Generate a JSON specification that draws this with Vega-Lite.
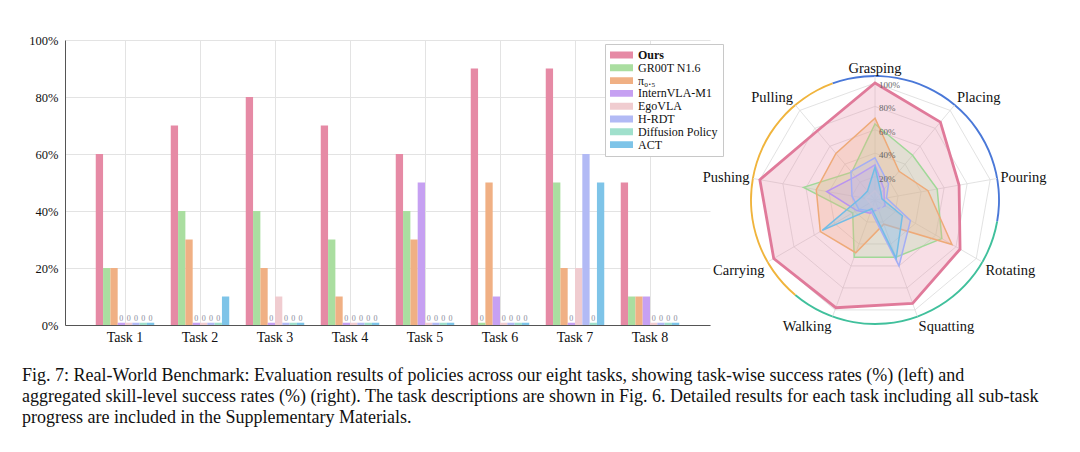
{
  "$schema": "https://vega.github.io/schema/vega-lite/v6.json",
  "padding": {"left": 22, "top": 34, "right": 0, "bottom": 0},
  "background": "white",
  "bounds": "flush",
  "spacing": 20,
  "config": {
    "font": "Liberation Serif",
    "view": {"stroke": null}
  },
  "title": {
    "text": [
      "Fig. 7: Real-World Benchmark: Evaluation results of policies across our eight tasks, showing task-wise success rates (%) (left) and",
      "aggregated skill-level success rates (%) (right). The task descriptions are shown in Fig. 6. Detailed results for each task including all sub-task",
      "progress are included in the Supplementary Materials."
    ],
    "orient": "bottom",
    "anchor": "start",
    "frame": "group",
    "dx": -43,
    "offset": 7,
    "font": "Liberation Serif",
    "fontSize": 18,
    "fontWeight": "normal",
    "lineHeight": 21,
    "color": "#111"
  },
  "resolve": {"scale": {"color": "independent"}, "legend": {"color": "independent"}},
  "datasets": {
    "bars": [
      {"task": "Task 1", "model": "Ours", "value": 60},
      {"task": "Task 1", "model": "GR00T N1.6", "value": 20},
      {"task": "Task 1", "model": "π₀.₅", "value": 20},
      {"task": "Task 1", "model": "InternVLA-M1", "value": 0},
      {"task": "Task 1", "model": "EgoVLA", "value": 0},
      {"task": "Task 1", "model": "H-RDT", "value": 0},
      {"task": "Task 1", "model": "Diffusion Policy", "value": 0},
      {"task": "Task 1", "model": "ACT", "value": 0},
      {"task": "Task 2", "model": "Ours", "value": 70},
      {"task": "Task 2", "model": "GR00T N1.6", "value": 40},
      {"task": "Task 2", "model": "π₀.₅", "value": 30},
      {"task": "Task 2", "model": "InternVLA-M1", "value": 0},
      {"task": "Task 2", "model": "EgoVLA", "value": 0},
      {"task": "Task 2", "model": "H-RDT", "value": 0},
      {"task": "Task 2", "model": "Diffusion Policy", "value": 0},
      {"task": "Task 2", "model": "ACT", "value": 10},
      {"task": "Task 3", "model": "Ours", "value": 80},
      {"task": "Task 3", "model": "GR00T N1.6", "value": 40},
      {"task": "Task 3", "model": "π₀.₅", "value": 20},
      {"task": "Task 3", "model": "InternVLA-M1", "value": 0},
      {"task": "Task 3", "model": "EgoVLA", "value": 10},
      {"task": "Task 3", "model": "H-RDT", "value": 0},
      {"task": "Task 3", "model": "Diffusion Policy", "value": 0},
      {"task": "Task 3", "model": "ACT", "value": 0},
      {"task": "Task 4", "model": "Ours", "value": 70},
      {"task": "Task 4", "model": "GR00T N1.6", "value": 30},
      {"task": "Task 4", "model": "π₀.₅", "value": 10},
      {"task": "Task 4", "model": "InternVLA-M1", "value": 0},
      {"task": "Task 4", "model": "EgoVLA", "value": 0},
      {"task": "Task 4", "model": "H-RDT", "value": 0},
      {"task": "Task 4", "model": "Diffusion Policy", "value": 0},
      {"task": "Task 4", "model": "ACT", "value": 0},
      {"task": "Task 5", "model": "Ours", "value": 60},
      {"task": "Task 5", "model": "GR00T N1.6", "value": 40},
      {"task": "Task 5", "model": "π₀.₅", "value": 30},
      {"task": "Task 5", "model": "InternVLA-M1", "value": 50},
      {"task": "Task 5", "model": "EgoVLA", "value": 0},
      {"task": "Task 5", "model": "H-RDT", "value": 0},
      {"task": "Task 5", "model": "Diffusion Policy", "value": 0},
      {"task": "Task 5", "model": "ACT", "value": 0},
      {"task": "Task 6", "model": "Ours", "value": 90},
      {"task": "Task 6", "model": "GR00T N1.6", "value": 0},
      {"task": "Task 6", "model": "π₀.₅", "value": 50},
      {"task": "Task 6", "model": "InternVLA-M1", "value": 10},
      {"task": "Task 6", "model": "EgoVLA", "value": 0},
      {"task": "Task 6", "model": "H-RDT", "value": 0},
      {"task": "Task 6", "model": "Diffusion Policy", "value": 0},
      {"task": "Task 6", "model": "ACT", "value": 0},
      {"task": "Task 7", "model": "Ours", "value": 90},
      {"task": "Task 7", "model": "GR00T N1.6", "value": 50},
      {"task": "Task 7", "model": "π₀.₅", "value": 20},
      {"task": "Task 7", "model": "InternVLA-M1", "value": 0},
      {"task": "Task 7", "model": "EgoVLA", "value": 20},
      {"task": "Task 7", "model": "H-RDT", "value": 60},
      {"task": "Task 7", "model": "Diffusion Policy", "value": 0},
      {"task": "Task 7", "model": "ACT", "value": 50},
      {"task": "Task 8", "model": "Ours", "value": 50},
      {"task": "Task 8", "model": "GR00T N1.6", "value": 10},
      {"task": "Task 8", "model": "π₀.₅", "value": 10},
      {"task": "Task 8", "model": "InternVLA-M1", "value": 10},
      {"task": "Task 8", "model": "EgoVLA", "value": 0},
      {"task": "Task 8", "model": "H-RDT", "value": 0},
      {"task": "Task 8", "model": "Diffusion Policy", "value": 0},
      {"task": "Task 8", "model": "ACT", "value": 0}
    ],
    "radar": [
      {"model": "Ours", "skill": "Grasping", "value": 100},
      {"model": "Ours", "skill": "Placing", "value": 87},
      {"model": "Ours", "skill": "Pouring", "value": 73},
      {"model": "Ours", "skill": "Rotating", "value": 84},
      {"model": "Ours", "skill": "Squatting", "value": 94},
      {"model": "Ours", "skill": "Walking", "value": 98},
      {"model": "Ours", "skill": "Carrying", "value": 100},
      {"model": "Ours", "skill": "Pushing", "value": 100},
      {"model": "Ours", "skill": "Pulling", "value": 77},
      {"model": "GR00T N1.6", "skill": "Grasping", "value": 65},
      {"model": "GR00T N1.6", "skill": "Placing", "value": 50},
      {"model": "GR00T N1.6", "skill": "Pouring", "value": 54},
      {"model": "GR00T N1.6", "skill": "Rotating", "value": 66},
      {"model": "GR00T N1.6", "skill": "Squatting", "value": 52},
      {"model": "GR00T N1.6", "skill": "Walking", "value": 52},
      {"model": "GR00T N1.6", "skill": "Carrying", "value": 22},
      {"model": "GR00T N1.6", "skill": "Pushing", "value": 62},
      {"model": "GR00T N1.6", "skill": "Pulling", "value": 31},
      {"model": "π₀.₅", "skill": "Grasping", "value": 70},
      {"model": "π₀.₅", "skill": "Placing", "value": 32},
      {"model": "π₀.₅", "skill": "Pouring", "value": 46},
      {"model": "π₀.₅", "skill": "Rotating", "value": 76},
      {"model": "π₀.₅", "skill": "Squatting", "value": 22},
      {"model": "π₀.₅", "skill": "Walking", "value": 48},
      {"model": "π₀.₅", "skill": "Carrying", "value": 54},
      {"model": "π₀.₅", "skill": "Pushing", "value": 51},
      {"model": "π₀.₅", "skill": "Pulling", "value": 52},
      {"model": "InternVLA-M1", "skill": "Grasping", "value": 30},
      {"model": "InternVLA-M1", "skill": "Placing", "value": 12},
      {"model": "InternVLA-M1", "skill": "Pouring", "value": 8},
      {"model": "InternVLA-M1", "skill": "Rotating", "value": 10},
      {"model": "InternVLA-M1", "skill": "Squatting", "value": 8},
      {"model": "InternVLA-M1", "skill": "Walking", "value": 12},
      {"model": "InternVLA-M1", "skill": "Carrying", "value": 18},
      {"model": "InternVLA-M1", "skill": "Pushing", "value": 42},
      {"model": "InternVLA-M1", "skill": "Pulling", "value": 26},
      {"model": "EgoVLA", "skill": "Grasping", "value": 8},
      {"model": "EgoVLA", "skill": "Placing", "value": 5},
      {"model": "EgoVLA", "skill": "Pouring", "value": 5},
      {"model": "EgoVLA", "skill": "Rotating", "value": 8},
      {"model": "EgoVLA", "skill": "Squatting", "value": 10},
      {"model": "EgoVLA", "skill": "Walking", "value": 6},
      {"model": "EgoVLA", "skill": "Carrying", "value": 5},
      {"model": "EgoVLA", "skill": "Pushing", "value": 8},
      {"model": "EgoVLA", "skill": "Pulling", "value": 6},
      {"model": "H-RDT", "skill": "Grasping", "value": 36},
      {"model": "H-RDT", "skill": "Placing", "value": 18},
      {"model": "H-RDT", "skill": "Pouring", "value": 10},
      {"model": "H-RDT", "skill": "Rotating", "value": 35},
      {"model": "H-RDT", "skill": "Squatting", "value": 60},
      {"model": "H-RDT", "skill": "Walking", "value": 10},
      {"model": "H-RDT", "skill": "Carrying", "value": 16},
      {"model": "H-RDT", "skill": "Pushing", "value": 20},
      {"model": "H-RDT", "skill": "Pulling", "value": 32},
      {"model": "Diffusion Policy", "skill": "Grasping", "value": 0},
      {"model": "Diffusion Policy", "skill": "Placing", "value": 0},
      {"model": "Diffusion Policy", "skill": "Pouring", "value": 0},
      {"model": "Diffusion Policy", "skill": "Rotating", "value": 0},
      {"model": "Diffusion Policy", "skill": "Squatting", "value": 0},
      {"model": "Diffusion Policy", "skill": "Walking", "value": 0},
      {"model": "Diffusion Policy", "skill": "Carrying", "value": 0},
      {"model": "Diffusion Policy", "skill": "Pushing", "value": 0},
      {"model": "Diffusion Policy", "skill": "Pulling", "value": 0},
      {"model": "ACT", "skill": "Grasping", "value": 28},
      {"model": "ACT", "skill": "Placing", "value": 8},
      {"model": "ACT", "skill": "Pouring", "value": 6},
      {"model": "ACT", "skill": "Rotating", "value": 27},
      {"model": "ACT", "skill": "Squatting", "value": 53},
      {"model": "ACT", "skill": "Walking", "value": 8},
      {"model": "ACT", "skill": "Carrying", "value": 52},
      {"model": "ACT", "skill": "Pushing", "value": 12},
      {"model": "ACT", "skill": "Pulling", "value": 10}
    ],
    "skills": [
      {"skill": "Grasping"}, {"skill": "Placing"}, {"skill": "Pouring"},
      {"skill": "Rotating"}, {"skill": "Squatting"}, {"skill": "Walking"},
      {"skill": "Carrying"}, {"skill": "Pushing"}, {"skill": "Pulling"}
    ],
    "rings": [
      {"level": 20, "skill": ["Grasping", "Placing", "Pouring", "Rotating", "Squatting", "Walking", "Carrying", "Pushing", "Pulling"]},
      {"level": 40, "skill": ["Grasping", "Placing", "Pouring", "Rotating", "Squatting", "Walking", "Carrying", "Pushing", "Pulling"]},
      {"level": 60, "skill": ["Grasping", "Placing", "Pouring", "Rotating", "Squatting", "Walking", "Carrying", "Pushing", "Pulling"]},
      {"level": 80, "skill": ["Grasping", "Placing", "Pouring", "Rotating", "Squatting", "Walking", "Carrying", "Pushing", "Pulling"]},
      {"level": 100, "skill": ["Grasping", "Placing", "Pouring", "Rotating", "Squatting", "Walking", "Carrying", "Pushing", "Pulling"]}
    ],
    "groups": [
      {"group": "manipulation", "start": -20, "end": 100},
      {"group": "locomotion", "start": 100, "end": 220},
      {"group": "loco-manipulation", "start": 220, "end": 340}
    ]
  },
  "hconcat": [
    {
      "width": 645,
      "height": 285,
      "data": {"name": "bars"},
      "encoding": {
        "x": {
          "field": "task", "type": "nominal", "sort": null,
          "scale": {"paddingInner": 0.22, "paddingOuter": 0.41},
          "axis": {
            "title": null, "labelAngle": 0, "ticks": false, "domainColor": "#555",
            "labelFontSize": 14, "labelPadding": 5, "labelColor": "#111",
            "grid": true, "bandPosition": 0.5, "gridColor": "#e3e3e3"
          }
        },
        "xOffset": {
          "field": "model", "type": "nominal",
          "scale": {"domain": ["Ours", "GR00T N1.6", "π₀.₅", "InternVLA-M1", "EgoVLA", "H-RDT", "Diffusion Policy", "ACT"]}
        },
        "color": {
          "field": "model", "type": "nominal",
          "scale": {
            "domain": ["Ours", "GR00T N1.6", "π₀.₅", "InternVLA-M1", "EgoVLA", "H-RDT", "Diffusion Policy", "ACT"],
            "range": ["#e68aa5", "#aadea0", "#f0b084", "#c6a0f2", "#f0ccd0", "#b2baf5", "#a0e0cc", "#7ec4e8"]
          },
          "legend": {
            "title": null, "orient": "none", "legendX": 540, "legendY": 4,
            "symbolType": "M-1,-0.3H1V0.3H-1Z", "symbolSize": 529, "clipHeight": 12,
            "rowPadding": 0.8, "symbolStrokeWidth": 0, "symbolOpacity": 1,
            "labelFont": "Liberation Serif", "labelFontSize": 12, "labelColor": "#111",
            "labelOffset": 5, "strokeColor": "#c8c8c8", "fillColor": "white", "padding": 5,
            "encode": {"labels": {"update": {"fontWeight": {"signal": "datum.value === 'Ours' ? 'bold' : 'normal'"}}}}
          }
        }
      },
      "layer": [
        {
          "mark": {"type": "bar"},
          "encoding": {
            "y": {
              "field": "value", "type": "quantitative",
              "scale": {"domain": [0, 100], "nice": false},
              "axis": {
                "title": null, "values": [0, 20, 40, 60, 80, 100],
                "labelExpr": "datum.value + '%'", "ticks": false, "domainColor": "#555",
                "gridColor": "#e3e3e3", "labelFontSize": 12.5, "labelPadding": 7, "labelColor": "#111"
              }
            }
          }
        },
        {
          "transform": [{"filter": "datum.value === 0"}],
          "mark": {"type": "bar"},
          "encoding": {"y": {"datum": 0}, "y2": {"datum": 0.8}}
        },
        {
          "transform": [{"filter": "datum.value === 0"}],
          "mark": {"type": "text", "baseline": "bottom", "dy": -2, "fontSize": 8},
          "encoding": {"y": {"datum": 0}, "text": {"value": "0"}, "color": {"value": "#8a8a9a"}}
        }
      ]
    },
    {
      "width": 290,
      "height": 320,
      "encoding": {
        "x": {"type": "quantitative", "scale": {"domain": [-1.24, 1.24], "nice": false, "zero": false}, "axis": null},
        "y": {"type": "quantitative", "scale": {"domain": [-1.368, 1.368], "nice": false, "zero": false}, "axis": null}
      },
      "layer": [
        {
          "data": {"name": "groups"},
          "mark": {"type": "arc"},
          "encoding": {
            "x": {"datum": 0, "type": "quantitative"},
            "y": {"datum": 0, "type": "quantitative"},
            "theta": {"field": "start", "type": "quantitative", "scale": {"domain": [0, 360], "range": [0, 6.283185307]}},
            "theta2": {"field": "end"},
            "radius": {"datum": 1.068, "type": "quantitative", "scale": {"type": "linear", "domain": [0, 1], "range": [0, 117], "zero": true}},
            "radius2": {"datum": 1.052},
            "color": {
              "field": "group", "type": "nominal", "legend": null,
              "scale": {"domain": ["manipulation", "locomotion", "loco-manipulation"], "range": ["#4a78d8", "#40c09c", "#f0b43c"]}
            }
          }
        },
        {
          "data": {"name": "rings"},
          "transform": [
            {"flatten": ["skill"]},
            {"calculate": "indexof(['Grasping','Placing','Pouring','Rotating','Squatting','Walking','Carrying','Pushing','Pulling'], datum.skill) * 2 * PI / 9", "as": "ang"},
            {"calculate": "datum.level / 100 * sin(datum.ang)", "as": "px"},
            {"calculate": "datum.level / 100 * cos(datum.ang)", "as": "py"}
          ],
          "mark": {"type": "line", "interpolate": "linear-closed", "color": "#dadada", "strokeWidth": 0.8},
          "encoding": {
            "x": {"field": "px", "type": "quantitative"},
            "y": {"field": "py", "type": "quantitative"},
            "order": {"field": "ang", "type": "quantitative"},
            "detail": {"field": "level", "type": "nominal"}
          }
        },
        {
          "data": {"name": "skills"},
          "transform": [
            {"calculate": "indexof(['Grasping','Placing','Pouring','Rotating','Squatting','Walking','Carrying','Pushing','Pulling'], datum.skill) * 2 * PI / 9", "as": "ang"},
            {"calculate": "1.06 * sin(datum.ang)", "as": "sx"},
            {"calculate": "1.06 * cos(datum.ang)", "as": "sy"}
          ],
          "mark": {"type": "rule", "color": "#dadada", "strokeWidth": 0.8},
          "encoding": {
            "x": {"field": "sx", "type": "quantitative"},
            "y": {"field": "sy", "type": "quantitative"},
            "x2": {"datum": 0},
            "y2": {"datum": 0}
          }
        },
        {
          "data": {"name": "radar"},
          "transform": [
            {"calculate": "indexof(['Grasping','Placing','Pouring','Rotating','Squatting','Walking','Carrying','Pushing','Pulling'], datum.skill) * 2 * PI / 9", "as": "ang"},
            {"calculate": "datum.value / 100 * sin(datum.ang)", "as": "px"},
            {"calculate": "datum.value / 100 * cos(datum.ang)", "as": "py"}
          ],
          "mark": {"type": "line", "interpolate": "linear-closed", "fillOpacity": 0.28, "strokeJoin": "miter"},
          "encoding": {
            "x": {"field": "px", "type": "quantitative"},
            "y": {"field": "py", "type": "quantitative"},
            "order": {"field": "ang", "type": "quantitative"},
            "detail": {"field": "model", "type": "nominal"},
            "stroke": {
              "field": "model", "type": "nominal", "legend": null,
              "scale": {
                "domain": ["Ours", "GR00T N1.6", "π₀.₅", "InternVLA-M1", "EgoVLA", "H-RDT", "Diffusion Policy", "ACT"],
                "range": ["#e07a9a", "#a0d898", "#eeaa78", "#b993f0", "#ecc4c8", "#a4aef5", "#94dcc4", "#72bde6"]
              }
            },
            "fill": {
              "field": "model", "type": "nominal", "legend": null,
              "scale": {
                "domain": ["Ours", "GR00T N1.6", "π₀.₅", "InternVLA-M1", "EgoVLA", "H-RDT", "Diffusion Policy", "ACT"],
                "range": ["#e68aa5", "#aadea0", "#f0b084", "#c6a0f2", "#f0ccd0", "#b2baf5", "#a0e0cc", "#7ec4e8"]
              }
            },
            "strokeWidth": {"condition": {"test": "datum.model === 'Ours'", "value": 2.8}, "value": 1.5}
          }
        },
        {
          "data": {"values": [{"level": 20}, {"level": 40}, {"level": 60}, {"level": 80}, {"level": 100}]},
          "transform": [{"calculate": "datum.level / 100", "as": "lv"}, {"calculate": "datum.level + '%'", "as": "lab"}],
          "mark": {"type": "text", "align": "left", "baseline": "middle", "dx": 4, "dy": 2, "fontSize": 9, "color": "#666"},
          "encoding": {
            "x": {"datum": 0},
            "y": {"field": "lv", "type": "quantitative"},
            "text": {"field": "lab"}
          }
        },
        {
          "data": {"name": "skills"},
          "transform": [
            {"calculate": "indexof(['Grasping','Placing','Pouring','Rotating','Squatting','Walking','Carrying','Pushing','Pulling'], datum.skill) * 2 * PI / 9", "as": "ang"},
            {"calculate": "1.09 * sin(datum.ang)", "as": "lx"},
            {"calculate": "1.09 * cos(datum.ang)", "as": "ly"}
          ],
          "mark": {
            "type": "text", "fontSize": 14.5, "color": "#111",
            "align": {"expr": "sin(datum.ang) > 0.1 ? 'left' : (sin(datum.ang) < -0.1 ? 'right' : 'center')"},
            "baseline": {"expr": "cos(datum.ang) > 0.3 ? 'alphabetic' : (cos(datum.ang) < -0.3 ? 'top' : 'middle')"}
          },
          "encoding": {
            "x": {"field": "lx", "type": "quantitative"},
            "y": {"field": "ly", "type": "quantitative"},
            "text": {"field": "skill"}
          }
        }
      ]
    }
  ]
}
